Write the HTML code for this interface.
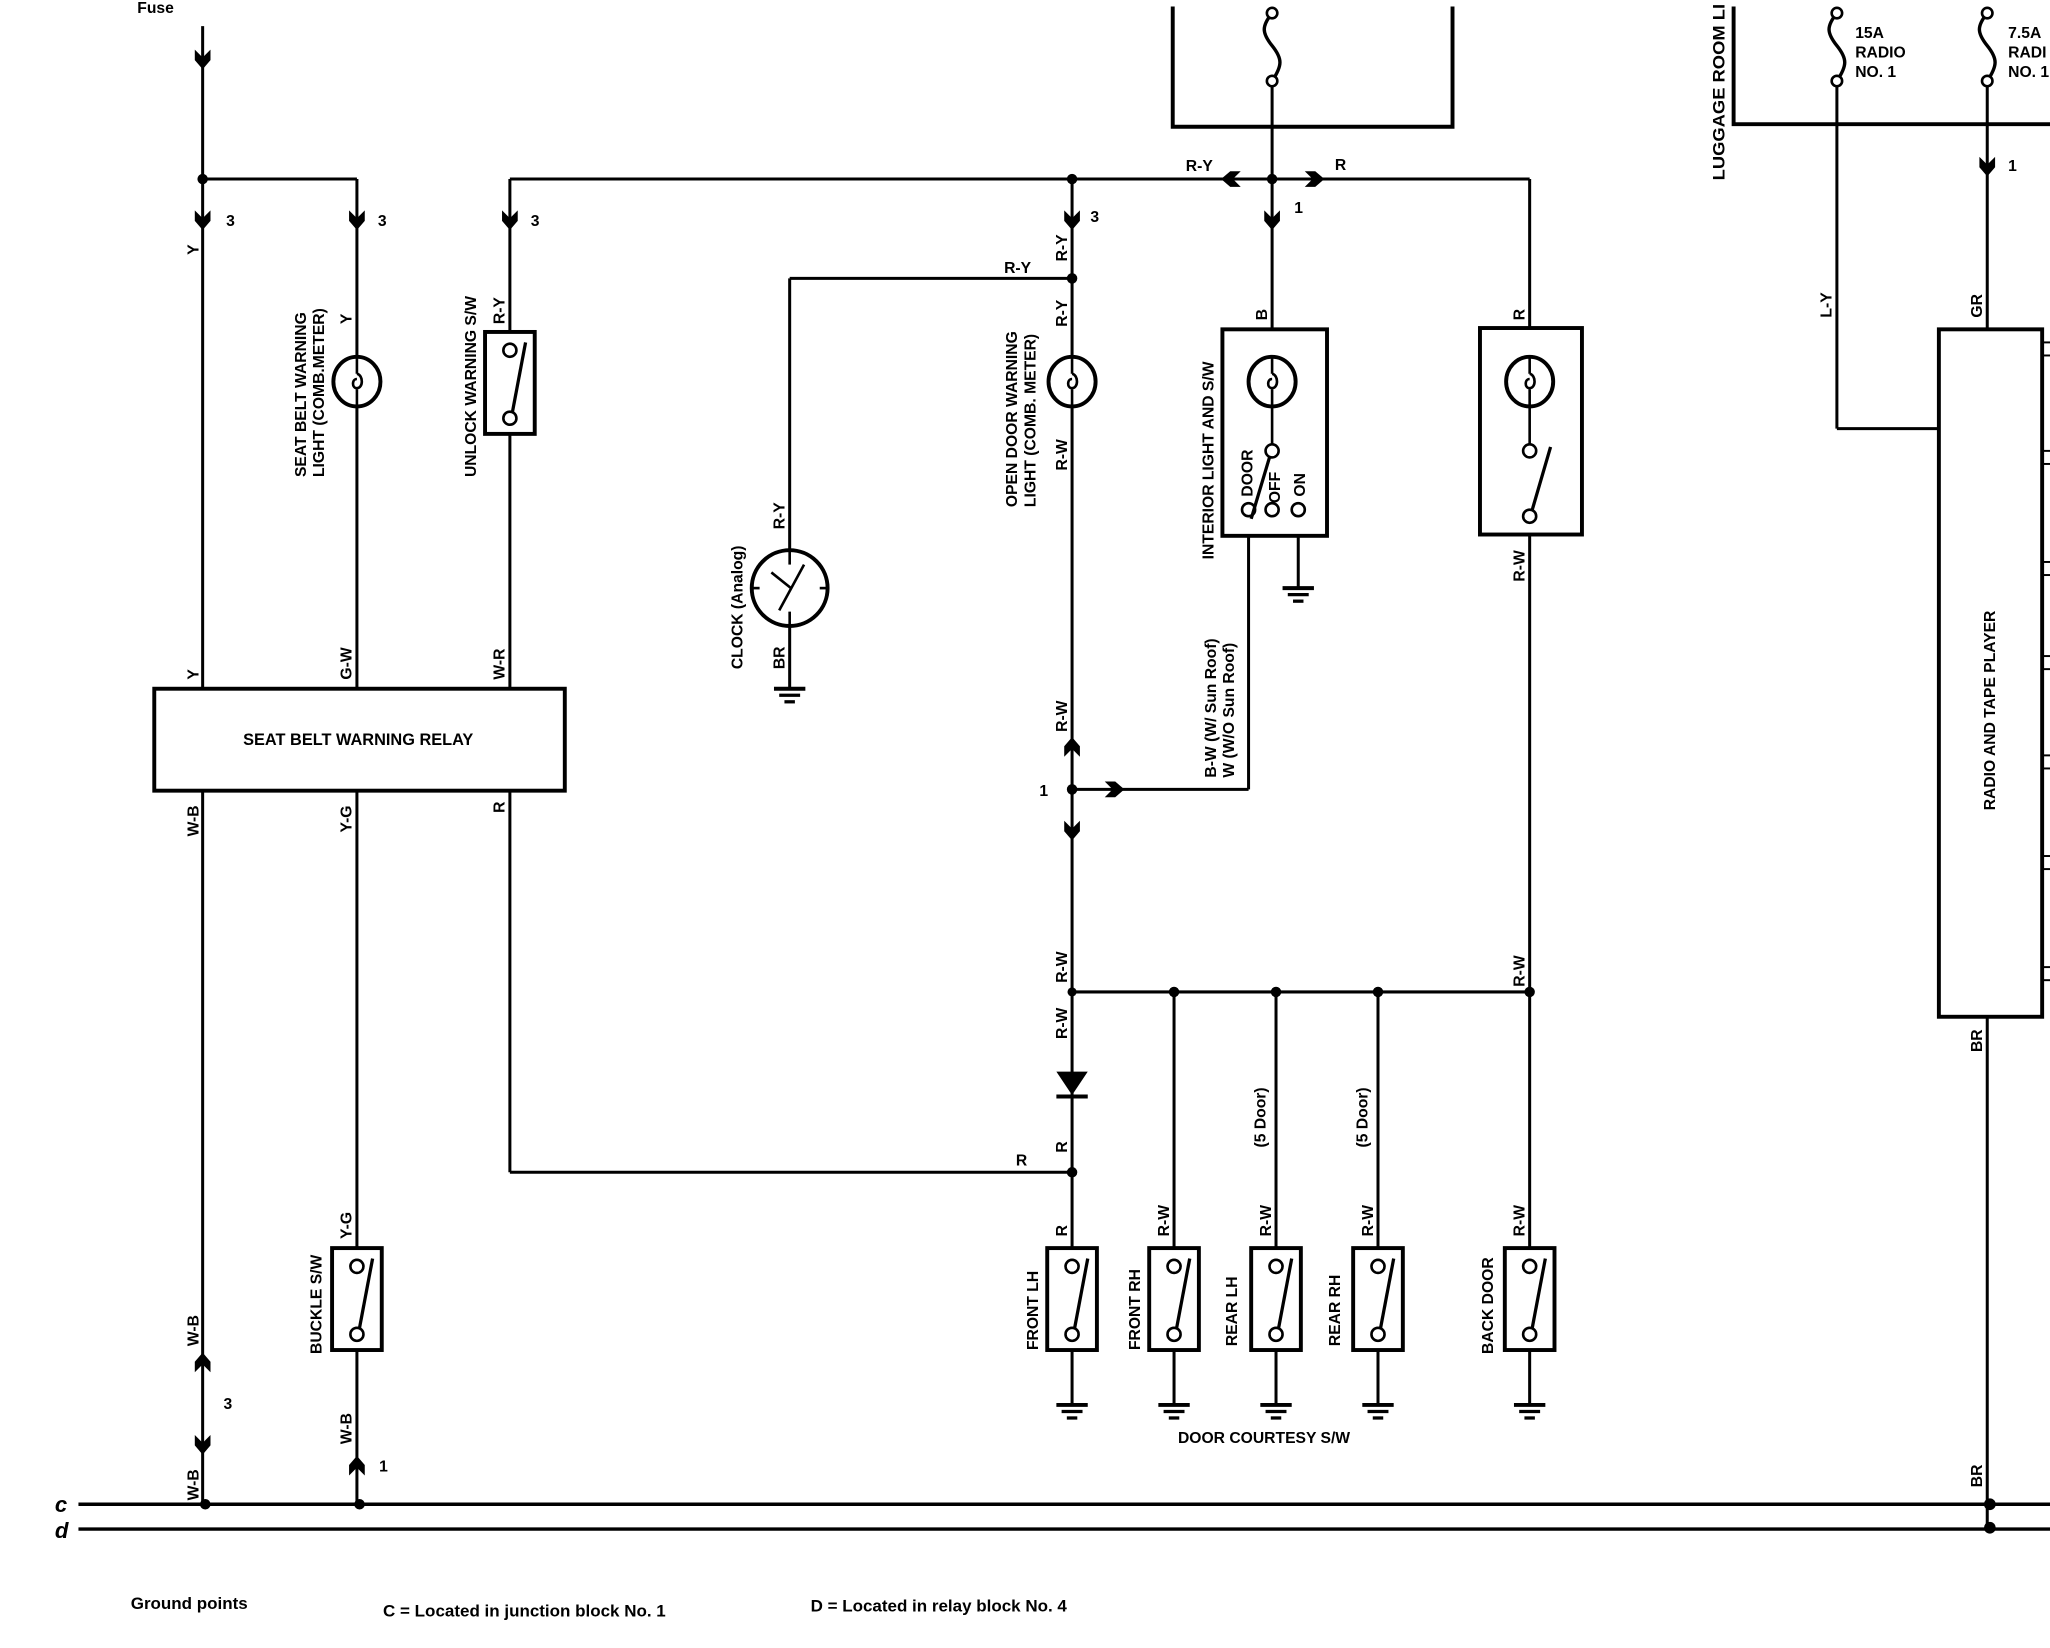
<!DOCTYPE html>
<html><head><meta charset="utf-8"><style>
html,body{margin:0;padding:0;background:#fff;}
svg{display:block;}
text{font-family:"Liberation Sans",sans-serif;font-weight:bold;fill:#000;}
</style></head><body>
<svg width="2050" height="1648" viewBox="0 0 1568 1261" preserveAspectRatio="none" xmlns="http://www.w3.org/2000/svg">
<defs>
<g id="cd"><polygon points="-6,-7 0,-1 6,-7 6,1 0,8 -6,1" fill="#000"/></g>
<g id="sw"><rect x="-19" y="0" width="38" height="78" fill="#fff" stroke="#000" stroke-width="3"/><circle cx="0" cy="14" r="5" fill="#fff" stroke="#000" stroke-width="2"/><circle cx="0" cy="66" r="5" fill="#fff" stroke="#000" stroke-width="2"/><line x1="2" y1="61" x2="12" y2="8" stroke="#000" stroke-width="2.5"/></g>
<g id="gnd"><line x1="-12" y1="0" x2="12" y2="0" stroke="#000" stroke-width="3"/><line x1="-8" y1="5" x2="8" y2="5" stroke="#000" stroke-width="2.5"/><line x1="-4" y1="10" x2="4" y2="10" stroke="#000" stroke-width="2.5"/></g>
<g id="lamp"><ellipse cx="0" cy="0" rx="18" ry="19" fill="#fff" stroke="#000" stroke-width="3"/><line x1="0" y1="-19" x2="0" y2="-6" stroke="#000" stroke-width="2"/><line x1="0" y1="6" x2="0" y2="19" stroke="#000" stroke-width="2"/><path d="M0,-6 C5,-5 5,5 0,5 C-4,5 -4,-2 0,-2" fill="none" stroke="#000" stroke-width="2"/></g>
</defs>
<g stroke="#000" stroke-width="2.3" fill="none">
<line x1="155" y1="20" x2="155" y2="1151"/>
<line x1="155" y1="137" x2="273" y2="137"/>
<line x1="273" y1="137" x2="273" y2="1151"/>
<line x1="390" y1="137" x2="1170" y2="137"/>
<line x1="390" y1="137" x2="390" y2="897"/>
<line x1="390" y1="897" x2="820" y2="897"/>
<line x1="820" y1="137" x2="820" y2="1075"/>
<line x1="604" y1="213" x2="820" y2="213"/>
<line x1="604" y1="213" x2="604" y2="527"/>
<line x1="820" y1="604" x2="955" y2="604"/>
<line x1="955" y1="604" x2="955" y2="385"/>
<line x1="820" y1="759" x2="1170" y2="759"/>
<line x1="898" y1="759" x2="898" y2="1075"/>
<line x1="976" y1="759" x2="976" y2="1075"/>
<line x1="1054" y1="759" x2="1054" y2="1075"/>
<line x1="1170" y1="137" x2="1170" y2="1075"/>
<line x1="973" y1="60" x2="973" y2="252"/>
<line x1="993" y1="390" x2="993" y2="450"/>
<path d="M897,5 V97 H1111 V5" stroke-width="3"/>
<path d="M1326,5 V95 H1568" stroke-width="3"/>
<line x1="1405" y1="60" x2="1405" y2="328"/>
<line x1="1405" y1="328" x2="1483" y2="328"/>
<line x1="1520" y1="60" x2="1520" y2="1170"/>
<line x1="60" y1="1151" x2="1568" y2="1151" stroke-width="2.6"/>
<line x1="60" y1="1170" x2="1568" y2="1170" stroke-width="2.6"/>
<path d="M973,10 C965,20 965,25 973,35 C981,45 981,50 973,62" stroke-width="2.6"/>
<path d="M1405,10 C1397,20 1397,25 1405,35 C1413,45 1413,50 1405,62" stroke-width="2.6"/>
<path d="M1520,10 C1512,20 1512,25 1520,35 C1528,45 1528,50 1520,62" stroke-width="2.6"/>
</g>
<g fill="#fff" stroke="#000" stroke-width="2">
<circle cx="973" cy="10" r="4"/><circle cx="973" cy="62" r="4"/>
<circle cx="1405" cy="10" r="4"/><circle cx="1405" cy="62" r="4"/>
<circle cx="1520" cy="10" r="4"/><circle cx="1520" cy="62" r="4"/>
</g>
<rect x="118" y="527" width="314" height="78" fill="#fff" stroke="#000" stroke-width="3"/>
<text x="274" y="570" font-size="12.5" text-anchor="middle" font-weight="normal">SEAT BELT WARNING RELAY</text>
<rect x="935" y="252" width="80" height="158" fill="#fff" stroke="#000" stroke-width="3"/>
<rect x="1132" y="251" width="78" height="158" fill="#fff" stroke="#000" stroke-width="3"/>
<rect x="1483" y="252" width="79" height="526" fill="#fff" stroke="#000" stroke-width="3"/>
<g stroke="#000" stroke-width="1.5">
<line x1="1562" y1="262" x2="1568" y2="262"/><line x1="1562" y1="272" x2="1568" y2="272"/>
<line x1="1562" y1="345" x2="1568" y2="345"/><line x1="1562" y1="355" x2="1568" y2="355"/>
<line x1="1562" y1="430" x2="1568" y2="430"/><line x1="1562" y1="440" x2="1568" y2="440"/>
<line x1="1562" y1="502" x2="1568" y2="502"/><line x1="1562" y1="512" x2="1568" y2="512"/>
<line x1="1562" y1="578" x2="1568" y2="578"/><line x1="1562" y1="588" x2="1568" y2="588"/>
<line x1="1562" y1="655" x2="1568" y2="655"/><line x1="1562" y1="665" x2="1568" y2="665"/>
<line x1="1562" y1="740" x2="1568" y2="740"/><line x1="1562" y1="750" x2="1568" y2="750"/>
</g>
<text transform="translate(1526,620) rotate(-90)" font-size="12" font-weight="normal">RADIO AND TAPE PLAYER</text>
<use href="#lamp" x="273" y="292"/>
<use href="#lamp" x="820" y="292"/>
<use href="#lamp" x="973" y="292"/>
<use href="#lamp" x="1170" y="292"/>
<use href="#sw" x="390" y="254"/>
<g stroke="#000" stroke-width="2" fill="#fff">
<line x1="973" y1="311" x2="973" y2="340"/>
<circle cx="973" cy="345" r="5"/>
<circle cx="955" cy="390" r="5"/><circle cx="973" cy="390" r="5"/><circle cx="993" cy="390" r="5"/>
<line x1="957" y1="397" x2="971" y2="350" stroke-width="2.5"/>
<line x1="1170" y1="311" x2="1170" y2="340"/>
<circle cx="1170" cy="345" r="5"/><circle cx="1170" cy="395" r="5"/>
<line x1="1172" y1="390" x2="1186" y2="342" stroke-width="2.5"/>
</g>
<g stroke="#000" fill="none">
<circle cx="604" cy="450" r="29" stroke-width="3" fill="#fff"/>
<line x1="604" y1="421" x2="604" y2="432" stroke-width="2"/>
<line x1="604" y1="468" x2="604" y2="479" stroke-width="2"/>
<line x1="575" y1="450" x2="581" y2="450" stroke-width="2"/>
<line x1="627" y1="450" x2="633" y2="450" stroke-width="2"/>
<line x1="596" y1="467" x2="615" y2="432" stroke-width="2"/>
<line x1="590" y1="438" x2="605" y2="450" stroke-width="2"/>
</g>
<polygon points="808,820 832,820 820,838" fill="#000"/>
<line x1="808" y1="839" x2="832" y2="839" stroke="#000" stroke-width="3"/>
<use href="#sw" x="820" y="955"/><use href="#sw" x="898" y="955"/><use href="#sw" x="976" y="955"/><use href="#sw" x="1054" y="955"/><use href="#sw" x="1170" y="955"/>
<use href="#sw" x="273" y="955"/>
<use href="#gnd" x="820" y="1075"/><use href="#gnd" x="898" y="1075"/><use href="#gnd" x="976" y="1075"/><use href="#gnd" x="1054" y="1075"/><use href="#gnd" x="1170" y="1075"/>
<use href="#gnd" x="993" y="450"/><use href="#gnd" x="604" y="527"/>
<use href="#cd" x="155" y="168"/><use href="#cd" x="273" y="168"/><use href="#cd" x="390" y="168"/><use href="#cd" x="820" y="168"/><use href="#cd" x="973" y="168"/><use href="#cd" x="1520" y="127"/>
<use href="#cd" x="820" y="635"/><use href="#cd" x="155" y="1105"/><use href="#cd" x="155" y="45"/>
<use href="#cd" transform="translate(820,572) rotate(180)"/>
<use href="#cd" transform="translate(155,1043) rotate(180)"/>
<use href="#cd" transform="translate(273,1122) rotate(180)"/>
<use href="#cd" transform="translate(852,604) rotate(-90)"/>
<use href="#cd" transform="translate(942,137) rotate(90)"/>
<use href="#cd" transform="translate(1005,137) rotate(-90)"/>
<g fill="#000">
<circle cx="155" cy="137" r="4"/><circle cx="820" cy="137" r="4"/><circle cx="973" cy="137" r="4"/><circle cx="820" cy="213" r="4"/>
<circle cx="820" cy="604" r="4"/><circle cx="820" cy="759" r="3.5"/><circle cx="898" cy="759" r="4"/><circle cx="976" cy="759" r="4"/><circle cx="1054" cy="759" r="4"/><circle cx="1170" cy="759" r="4"/>
<circle cx="820" cy="897" r="4"/><circle cx="157" cy="1151" r="4"/><circle cx="275" cy="1151" r="4"/><circle cx="1522" cy="1151" r="4.5"/><circle cx="1522" cy="1169" r="4.5"/>
</g>
<g font-size="12">
<text x="105" y="10">Fuse</text>
<text x="173" y="173">3</text><text x="289" y="173">3</text><text x="406" y="173">3</text><text x="834" y="170">3</text>
<text x="990" y="163">1</text><text x="1536" y="131">1</text><text x="795" y="609">1</text><text x="171" y="1078">3</text><text x="290" y="1126">1</text>
<text x="907" y="131">R-Y</text><text x="1021" y="130">R</text><text x="768" y="209">R-Y</text><text x="777" y="892">R</text>
<text x="1419" y="29">15A</text><text x="1419" y="44">RADIO</text><text x="1419" y="59">NO. 1</text>
<text x="1536" y="29">7.5A</text><text x="1536" y="44">RADI</text><text x="1536" y="59">NO. 1</text>
<text x="901" y="1104" font-weight="normal">DOOR COURTESY S/W</text>
<text x="100" y="1231" font-size="13">Ground points</text>
<text x="293" y="1237" font-size="13">C  =  Located in junction block No. 1</text>
<text x="620" y="1233" font-size="13">D  =  Located in relay block No. 4</text>
<text x="42" y="1157" font-size="17" font-style="italic" font-weight="normal" font-family="Liberation Serif">c</text>
<text x="42" y="1177" font-size="17" font-style="italic" font-weight="normal" font-family="Liberation Serif">d</text>
</g>
<g font-size="12">
<text transform="translate(152,195) rotate(-90)">Y</text>
<text transform="translate(152,520) rotate(-90)">Y</text>
<text transform="translate(152,640) rotate(-90)">W-B</text>
<text transform="translate(152,1030) rotate(-90)">W-B</text>
<text transform="translate(152,1148) rotate(-90)">W-B</text>
<text transform="translate(269,248) rotate(-90)">Y</text>
<text transform="translate(269,520) rotate(-90)">G-W</text>
<text transform="translate(269,637) rotate(-90)">Y-G</text>
<text transform="translate(269,948) rotate(-90)">Y-G</text>
<text transform="translate(269,1105) rotate(-90)">W-B</text>
<text transform="translate(386,248) rotate(-90)">R-Y</text>
<text transform="translate(386,520) rotate(-90)">W-R</text>
<text transform="translate(386,622) rotate(-90)">R</text>
<text transform="translate(816,200) rotate(-90)">R-Y</text>
<text transform="translate(816,250) rotate(-90)">R-Y</text>
<text transform="translate(816,360) rotate(-90)">R-W</text>
<text transform="translate(816,560) rotate(-90)">R-W</text>
<text transform="translate(816,752) rotate(-90)">R-W</text>
<text transform="translate(816,795) rotate(-90)">R-W</text>
<text transform="translate(816,882) rotate(-90)">R</text>
<text transform="translate(816,946) rotate(-90)">R</text>
<text transform="translate(894,946) rotate(-90)">R-W</text>
<text transform="translate(972,946) rotate(-90)">R-W</text>
<text transform="translate(1050,946) rotate(-90)">R-W</text>
<text transform="translate(1166,946) rotate(-90)">R-W</text>
<text transform="translate(1166,755) rotate(-90)">R-W</text>
<text transform="translate(1166,445) rotate(-90)">R-W</text>
<text transform="translate(1166,245) rotate(-90)">R</text>
<text transform="translate(969,245) rotate(-90)">B</text>
<text transform="translate(600,405) rotate(-90)">R-Y</text>
<text transform="translate(600,512) rotate(-90)">BR</text>
<text transform="translate(1401,243) rotate(-90)">L-Y</text>
<text transform="translate(1516,243) rotate(-90)">GR</text>
<text transform="translate(1516,805) rotate(-90)">BR</text>
<text transform="translate(1516,1138) rotate(-90)">BR</text>
<text transform="translate(1319,138) rotate(-90)" font-size="12.5" textLength="135" lengthAdjust="spacingAndGlyphs">LUGGAGE ROOM LI</text>
<text transform="translate(568,512) rotate(-90)">CLOCK (Analog)</text>
<text transform="translate(234,365) rotate(-90)">SEAT BELT WARNING</text>
<text transform="translate(248,365) rotate(-90)">LIGHT (COMB.METER)</text>
<text transform="translate(364,365) rotate(-90)">UNLOCK WARNING S/W</text>
<text transform="translate(778,388) rotate(-90)">OPEN DOOR WARNING</text>
<text transform="translate(792,388) rotate(-90)">LIGHT (COMB. METER)</text>
<text transform="translate(928,428) rotate(-90)">INTERIOR LIGHT AND S/W</text>
<text transform="translate(958,380) rotate(-90)">DOOR</text>
<text transform="translate(979,385) rotate(-90)">OFF</text>
<text transform="translate(998,380) rotate(-90)">ON</text>
<text transform="translate(930,595) rotate(-90)">B-W (W/ Sun Roof)</text>
<text transform="translate(944,595) rotate(-90)">W (W/O Sun Roof)</text>
<text transform="translate(968,878) rotate(-90)">(5 Door)</text>
<text transform="translate(1046,878) rotate(-90)">(5 Door)</text>
<text transform="translate(794,1033) rotate(-90)">FRONT LH</text>
<text transform="translate(872,1033) rotate(-90)">FRONT RH</text>
<text transform="translate(946,1030) rotate(-90)">REAR LH</text>
<text transform="translate(1025,1030) rotate(-90)">REAR RH</text>
<text transform="translate(1142,1036) rotate(-90)">BACK DOOR</text>
<text transform="translate(246,1036) rotate(-90)">BUCKLE S/W</text>
</g>
</svg>
</body></html>
